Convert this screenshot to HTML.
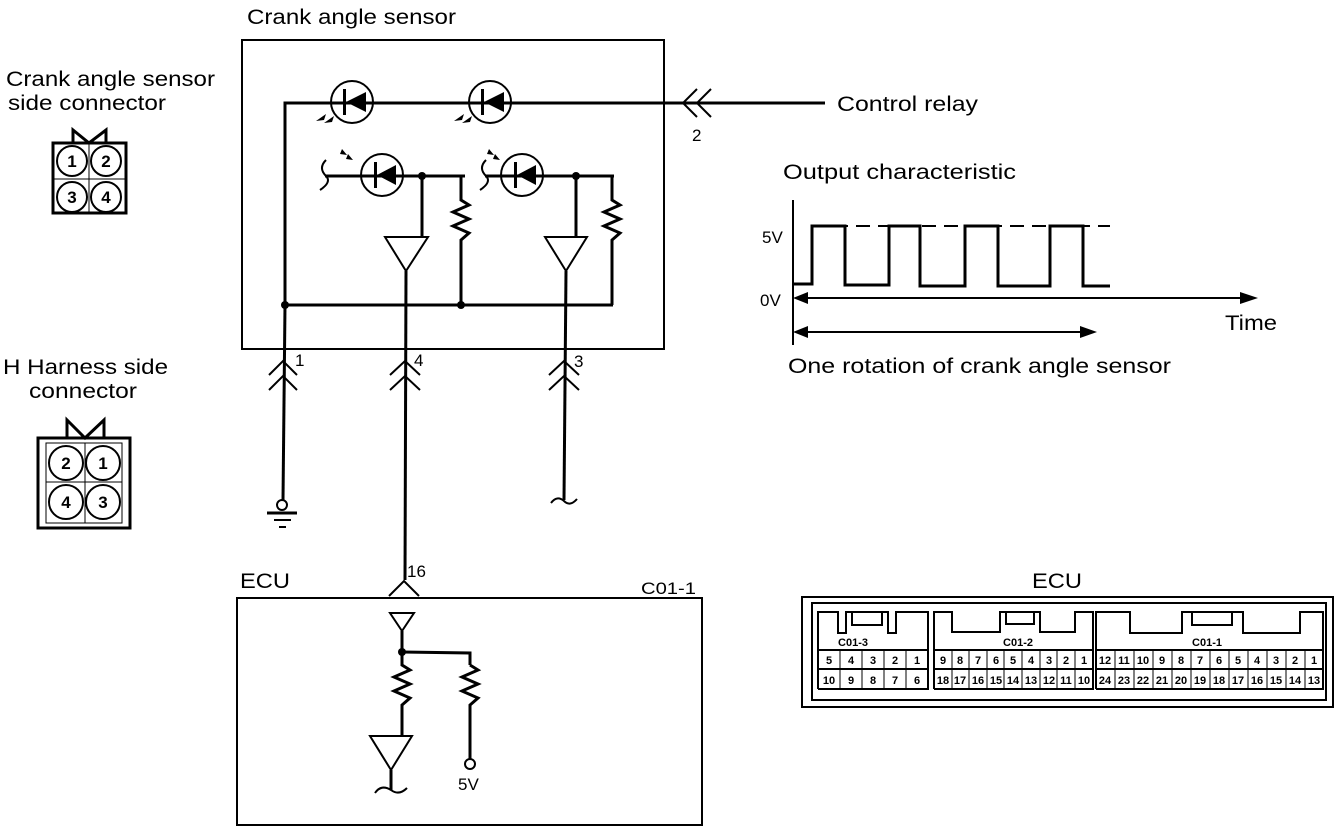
<!DOCTYPE html>
<html><head><meta charset="utf-8"><style>
html,body{margin:0;padding:0;background:#fff;}
svg{display:block;}
text{font-family:"Liberation Sans",Arial,sans-serif;fill:#000;}
</style></head><body>
<svg width="1344" height="832" viewBox="0 0 1344 832" xmlns="http://www.w3.org/2000/svg">
<g fill="none" stroke="#000" stroke-width="3">
<rect x="242" y="40" width="422" height="309" stroke-width="2"/>
<polyline points="285,305 285,103 825,103"/>
<circle cx="352" cy="102" r="21" stroke-width="2"/>
<circle cx="490" cy="102" r="21" stroke-width="2"/>
<line x1="325" y1="176" x2="465" y2="176"/>
<line x1="485" y1="176" x2="614" y2="176"/>
<circle cx="382" cy="175" r="21" stroke-width="2"/>
<circle cx="522" cy="175" r="21" stroke-width="2"/>
<path d="M326 160 q-8 8 0 16 q6 6 -6 14" stroke-width="2"/>
<path d="M486 160 q-8 8 0 16 q6 6 -6 14" stroke-width="2"/>
<line x1="422" y1="176" x2="422" y2="237"/>
<line x1="576" y1="176" x2="576" y2="237"/>
<polyline points="461,176 461,200 469,205 453,212 469,219 453,226 469,233 461,240 461,305"/>
<polyline points="612,176 612,200 620,205 604,212 620,219 604,226 620,233 612,240 612,305"/>
<polygon points="385,237 428,237 406,271" stroke-width="2"/>
<polygon points="545,237 587,237 566,271" stroke-width="2"/>
<line x1="285" y1="305" x2="613" y2="305"/>
<line x1="406" y1="271" x2="405" y2="580"/>
<line x1="566" y1="271" x2="564" y2="500"/>
<line x1="285" y1="305" x2="283" y2="500"/>
<polyline points="269,375 283,361 297,375" stroke-width="2"/>
<polyline points="269,390 283,376 297,390" stroke-width="2"/>
<polyline points="390,375 405,361 420,375" stroke-width="2"/>
<polyline points="390,390 405,376 420,390" stroke-width="2"/>
<polyline points="549,375 564,361 579,375" stroke-width="2"/>
<polyline points="549,390 564,376 579,390" stroke-width="2"/>
<polyline points="389,596 404,581 419,596" stroke-width="2"/>
<polyline points="697,89 683,103 697,117" stroke-width="2"/>
<polyline points="711,89 697,103 711,117" stroke-width="2"/>
<circle cx="282" cy="505" r="5" stroke-width="2"/>
<line x1="267" y1="513" x2="297" y2="513"/>
<line x1="274" y1="520" x2="291" y2="520" stroke-width="2"/>
<line x1="279" y1="527" x2="286" y2="527" stroke-width="2"/>
<path d="M551 503 q6 -8 13 -2 q6 6 13 -2" stroke-width="2"/>
<rect x="237" y="598" width="465" height="227" stroke-width="2"/>
<polygon points="390,613 414,613 402,631" stroke-width="2"/>
<line x1="402" y1="631" x2="402" y2="655"/>
<polyline points="402,652 470,653 470,665"/>
<polyline points="402,655 402,665 410,670 394,677 410,684 394,691 410,698 402,705 402,736"/>
<polyline points="470,665 478,670 462,677 478,684 462,691 478,698 470,705 470,759"/>
<circle cx="470" cy="764" r="5" stroke-width="2"/>
<polygon points="370,736 412,736 391,770" stroke-width="2"/>
<line x1="391" y1="770" x2="391" y2="790"/>
<path d="M375 793 q6 -9 16 -3 q8 6 16 -2" stroke-width="2"/>
<line x1="793" y1="200" x2="793" y2="345" stroke-width="2"/>
<line x1="800" y1="298" x2="1245" y2="298" stroke-width="2"/>
<line x1="800" y1="332" x2="1085" y2="332" stroke-width="2"/>
<line x1="812" y1="226" x2="1110" y2="226" stroke-width="2" stroke-dasharray="14,8"/>
<polyline points="793,284 812,284 812,226 845,226 845,285 889,285 889,226 920,226 920,286 965,286 965,226 998,226 998,286 1050,286 1050,226 1083,226 1083,286 1110,286"/>
<rect x="802" y="597" width="531" height="110" stroke-width="2"/>
<rect x="812" y="603" width="514" height="97" stroke-width="2"/>
<polyline points="818,689 818,612 838,612 838,633 846,633 846,612 888,612 888,633 896,633 896,612 928,612 928,689 818,689" stroke-width="2"/>
<polyline points="852,612 852,625 882,625 882,612" stroke-width="2"/>
<polyline points="934,689 934,612 952,612 952,632 1000,632 1000,612 1040,612 1040,632 1075,632 1075,612 1093,612 1093,689 934,689" stroke-width="2"/>
<polyline points="1006,612 1006,624 1034,624 1034,612" stroke-width="2"/>
<polyline points="1096,689 1096,612 1130,612 1130,633 1182,633 1182,612 1243,612 1243,633 1300,633 1300,612 1323,612 1323,689 1096,689" stroke-width="2"/>
<polyline points="1192,612 1192,625 1232,625 1232,612" stroke-width="2"/>
<line x1="818" y1="650" x2="928" y2="650" stroke-width="2"/>
<line x1="934" y1="650" x2="1093" y2="650" stroke-width="2"/>
<line x1="1096" y1="650" x2="1323" y2="650" stroke-width="2"/>
<line x1="818" y1="669" x2="928" y2="669" stroke-width="2"/>
<line x1="934" y1="669" x2="1093" y2="669" stroke-width="2"/>
<line x1="1096" y1="669" x2="1323" y2="669" stroke-width="2"/>
<rect x="53" y="143" width="73" height="70" stroke-width="3"/>
<line x1="89" y1="143" x2="89" y2="213" stroke-width="1"/>
<line x1="53" y1="179" x2="126" y2="179" stroke-width="1"/>
<polyline points="73,143 73,130 89,143 106,130 106,143" stroke-width="3"/>
<circle cx="72" cy="161" r="15" stroke-width="2"/>
<circle cx="106" cy="161" r="15" stroke-width="2"/>
<circle cx="72" cy="197" r="15" stroke-width="2"/>
<circle cx="106" cy="197" r="15" stroke-width="2"/>
<rect x="38" y="438" width="92" height="90" stroke-width="3"/>
<rect x="46" y="443" width="76" height="80" stroke-width="1"/>
<line x1="85" y1="443" x2="85" y2="523" stroke-width="1"/>
<line x1="46" y1="482" x2="122" y2="482" stroke-width="1"/>
<polyline points="67,438 67,420 85,438 104,420 104,438" stroke-width="3"/>
<circle cx="66" cy="463" r="17" stroke-width="2"/>
<circle cx="103" cy="463" r="17" stroke-width="2"/>
<circle cx="66" cy="502" r="17" stroke-width="2"/>
<circle cx="103" cy="502" r="17" stroke-width="2"/>
</g>
<g fill="#000">
<polygon points="346,102 366,92 366,112"/><rect x="343" y="89" width="3" height="26"/>
<polygon points="484,102 504,92 504,112"/><rect x="481" y="89" width="3" height="26"/>
<polygon points="377,175 396,165 396,185"/><rect x="374" y="162" width="3" height="26"/>
<polygon points="517,175 536,165 536,185"/><rect x="514" y="162" width="3" height="26"/>
<circle cx="422" cy="176" r="4"/><circle cx="576" cy="176" r="4"/>
<circle cx="285" cy="305" r="4"/><circle cx="461" cy="305" r="4"/>
<circle cx="402" cy="652" r="4"/>
<polygon points="793,298 808,292 808,304"/><polygon points="1258,298 1240,292 1240,304"/>
<polygon points="793,332 808,326 808,338"/><polygon points="1097,332 1080,326 1080,338"/>
<path d="M316 121 l10 -7 l-2 6 z M324 123 l10 -7 l-2 6 z"/>
<path d="M454 121 l10 -7 l-2 6 z M462 123 l10 -7 l-2 6 z"/>
<path d="M348 154 l5 6 l-7 -1 z M342 149 l5 6 l-7 -1 z"/>
<path d="M495 154 l5 6 l-7 -1 z M489 149 l5 6 l-7 -1 z"/>
</g>
<g font-size="21" lengthAdjust="spacingAndGlyphs">
<text x="247" y="24" textLength="209" lengthAdjust="spacingAndGlyphs">Crank angle sensor</text>
<text x="6" y="86" textLength="209" lengthAdjust="spacingAndGlyphs">Crank angle sensor</text>
<text x="8" y="110" textLength="158" lengthAdjust="spacingAndGlyphs">side connector</text>
<text x="3" y="374" textLength="165" lengthAdjust="spacingAndGlyphs">H Harness side</text>
<text x="29" y="398" textLength="108" lengthAdjust="spacingAndGlyphs">connector</text>
<text x="837" y="111" textLength="141" lengthAdjust="spacingAndGlyphs">Control relay</text>
<text x="783" y="179" textLength="233" lengthAdjust="spacingAndGlyphs">Output characteristic</text>
<text x="1225" y="330" textLength="52" lengthAdjust="spacingAndGlyphs">Time</text>
<text x="788" y="373" textLength="383" lengthAdjust="spacingAndGlyphs">One rotation of crank angle sensor</text>
<text x="240" y="588" textLength="50" lengthAdjust="spacingAndGlyphs">ECU</text>
<text x="1032" y="588" textLength="50" lengthAdjust="spacingAndGlyphs">ECU</text>
</g>
<g font-size="17">
<text x="762" y="243">5V</text>
<text x="760" y="306">0V</text>
<text x="692" y="141">2</text>
<text x="295" y="366">1</text>
<text x="414" y="366">4</text>
<text x="574" y="367">3</text>
<text x="407" y="577">16</text>
<text x="641" y="594" textLength="55" lengthAdjust="spacingAndGlyphs">C01-1</text>
<text x="458" y="790">5V</text>
</g>
<g font-size="17" font-weight="bold" text-anchor="middle">
<text x="72" y="167">1</text><text x="106" y="167">2</text>
<text x="72" y="203">3</text><text x="106" y="203">4</text>
<text x="66" y="469">2</text><text x="103" y="469">1</text>
<text x="66" y="508">4</text><text x="103" y="508">3</text>
</g>
<g font-size="11" font-weight="bold" text-anchor="middle">
<text x="853" y="646">C01-3</text>
<text x="1018" y="646">C01-2</text>
<text x="1207" y="646">C01-1</text>
<text x="829" y="664">5</text><text x="851" y="664">4</text><text x="873" y="664">3</text><text x="895" y="664">2</text><text x="917" y="664">1</text>
<text x="829" y="684">10</text><text x="851" y="684">9</text><text x="873" y="684">8</text><text x="895" y="684">7</text><text x="917" y="684">6</text>
<text x="943" y="664">9</text><text x="960" y="664">8</text><text x="978" y="664">7</text><text x="996" y="664">6</text><text x="1013" y="664">5</text><text x="1031" y="664">4</text><text x="1049" y="664">3</text><text x="1066" y="664">2</text><text x="1084" y="664">1</text>
<text x="943" y="684">18</text><text x="960" y="684">17</text><text x="978" y="684">16</text><text x="996" y="684">15</text><text x="1013" y="684">14</text><text x="1031" y="684">13</text><text x="1049" y="684">12</text><text x="1066" y="684">11</text><text x="1084" y="684">10</text>
<text x="1105" y="664">12</text><text x="1124" y="664">11</text><text x="1143" y="664">10</text><text x="1162" y="664">9</text><text x="1181" y="664">8</text><text x="1200" y="664">7</text><text x="1219" y="664">6</text><text x="1238" y="664">5</text><text x="1257" y="664">4</text><text x="1276" y="664">3</text><text x="1295" y="664">2</text><text x="1314" y="664">1</text>
<text x="1105" y="684">24</text><text x="1124" y="684">23</text><text x="1143" y="684">22</text><text x="1162" y="684">21</text><text x="1181" y="684">20</text><text x="1200" y="684">19</text><text x="1219" y="684">18</text><text x="1238" y="684">17</text><text x="1257" y="684">16</text><text x="1276" y="684">15</text><text x="1295" y="684">14</text><text x="1314" y="684">13</text>
</g>
<g stroke="#000" stroke-width="1">
<line x1="840" y1="650" x2="840" y2="689"/><line x1="862" y1="650" x2="862" y2="689"/><line x1="884" y1="650" x2="884" y2="689"/><line x1="906" y1="650" x2="906" y2="689"/>
<line x1="952" y1="650" x2="952" y2="689"/><line x1="969" y1="650" x2="969" y2="689"/><line x1="987" y1="650" x2="987" y2="689"/><line x1="1004" y1="650" x2="1004" y2="689"/><line x1="1022" y1="650" x2="1022" y2="689"/><line x1="1040" y1="650" x2="1040" y2="689"/><line x1="1057" y1="650" x2="1057" y2="689"/><line x1="1075" y1="650" x2="1075" y2="689"/>
<line x1="1115" y1="650" x2="1115" y2="689"/><line x1="1134" y1="650" x2="1134" y2="689"/><line x1="1153" y1="650" x2="1153" y2="689"/><line x1="1172" y1="650" x2="1172" y2="689"/><line x1="1191" y1="650" x2="1191" y2="689"/><line x1="1210" y1="650" x2="1210" y2="689"/><line x1="1229" y1="650" x2="1229" y2="689"/><line x1="1248" y1="650" x2="1248" y2="689"/><line x1="1267" y1="650" x2="1267" y2="689"/><line x1="1286" y1="650" x2="1286" y2="689"/><line x1="1305" y1="650" x2="1305" y2="689"/>
</g>
</svg>
</body></html>
